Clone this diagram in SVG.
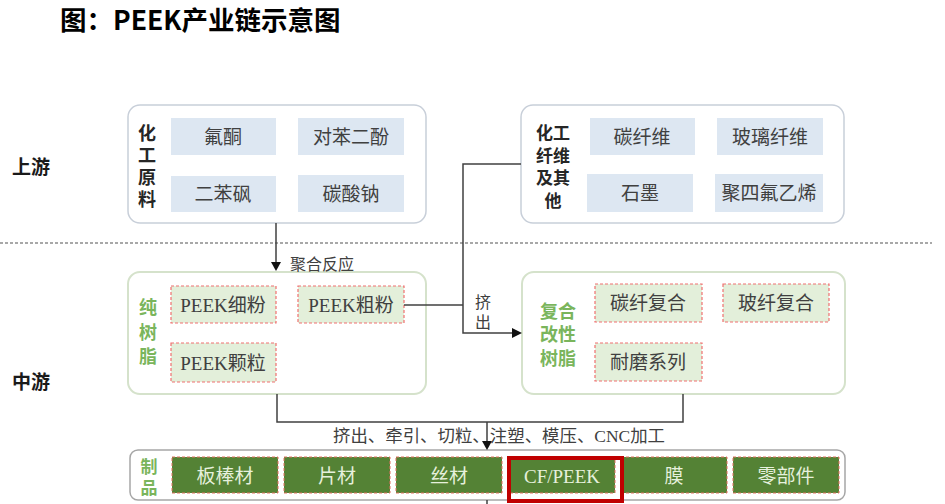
<svg xmlns="http://www.w3.org/2000/svg" width="945" height="504" viewBox="0 0 945 504">
<style>
.cjk{font-family:"Noto Sans CJK SC","Liberation Sans",sans-serif}
.srf{font-family:"Liberation Serif","Noto Sans CJK SC",serif}
.title{font-size:26.5px;font-weight:bold;fill:#000}
.side{font-size:19px;font-weight:bold;fill:#1a1a1a}
.lblk{font-size:18px;font-weight:bold;fill:#262626}
.lgrn{font-size:18px;font-weight:bold;fill:#7ab55c}
.item{font-size:19px;fill:#404040}
.dark{font-size:19px;fill:#e6f0dc}
.note{font-size:16px;fill:#404040}
.vert{writing-mode:vertical-rl;text-orientation:upright}
.upbox{fill:#fff;stroke:#c8cfd9;stroke-width:1.5}
.midbox{fill:#fff;stroke:#d5e2cb;stroke-width:2}
.blue{fill:#dde7f2}
.lg{fill:#e3efda;stroke:#f07070;stroke-width:1.2;stroke-dasharray:3 2}
.dg{fill:#548235;stroke:#e07060;stroke-width:1;stroke-dasharray:3 2}
.ln{fill:none;stroke:#404040;stroke-width:1.5}
.ah{fill:#111}
</style>

<text class="cjk title" x="60" y="18" dominant-baseline="central">图：PEEK产业链示意图</text>

<g id="stage-labels">
<text class="cjk side" x="12" y="165" dominant-baseline="central">上游</text>
<text class="cjk side" x="12" y="380" dominant-baseline="central">中游</text>
</g>

<line x1="0" y1="243" x2="932" y2="243" stroke="#8c8c8c" stroke-width="1.5" stroke-dasharray="3 2"/>

<g id="chem-raw">
<rect class="upbox" x="128" y="105" width="298" height="118" rx="12"/>
<text class="cjk lblk vert" x="147" y="168" text-anchor="middle" style="letter-spacing:4px">化工原料</text>
<rect class="blue" x="171" y="118" width="105" height="37"/>
<rect class="blue" x="298" y="118" width="106" height="37"/>
<rect class="blue" x="171" y="176" width="105" height="36"/>
<rect class="blue" x="298" y="175" width="106" height="37"/>
<g class="srf item" text-anchor="middle">
<text x="223" y="137" dominant-baseline="central">氟酮</text>
<text x="351" y="137" dominant-baseline="central">对苯二酚</text>
<text x="223" y="194" dominant-baseline="central">二苯砜</text>
<text x="351" y="194" dominant-baseline="central">碳酸钠</text>
</g>
</g>

<g id="chem-fiber">
<rect class="upbox" x="521" y="105" width="323" height="118" rx="12"/>
<text class="cjk lblk" text-anchor="middle" dominant-baseline="central" style="font-size:17px"><tspan x="553" y="131">化工</tspan><tspan x="553" y="153.5">纤维</tspan><tspan x="553" y="176">及其</tspan><tspan x="553" y="198.5">他</tspan></text>
<rect class="blue" x="590" y="118" width="105" height="37"/>
<rect class="blue" x="717" y="118" width="106" height="37"/>
<rect class="blue" x="587" y="174" width="106" height="38"/>
<rect class="blue" x="715" y="174" width="108" height="38"/>
<g class="srf item" text-anchor="middle">
<text x="642" y="137" dominant-baseline="central">碳纤维</text>
<text x="770" y="137" dominant-baseline="central">玻璃纤维</text>
<text x="640" y="193" dominant-baseline="central">石墨</text>
<text x="769" y="193" dominant-baseline="central">聚四氟乙烯</text>
</g>
</g>

<g id="pure-resin">
<rect class="midbox" x="128" y="272" width="298" height="122" rx="12"/>
<text class="cjk lgrn vert" x="148" y="335" text-anchor="middle" style="letter-spacing:6.5px">纯树脂</text>
<rect class="lg" x="171" y="286" width="105" height="37"/>
<rect class="lg" x="298" y="286" width="106" height="37"/>
<rect class="lg" x="171" y="343" width="105" height="39"/>
<g class="srf item" text-anchor="middle">
<text x="223" y="305" dominant-baseline="central">PEEK细粉</text>
<text x="351" y="305" dominant-baseline="central">PEEK粗粉</text>
<text x="223" y="363" dominant-baseline="central">PEEK颗粒</text>
</g>
</g>

<g id="composite-resin">
<rect class="midbox" x="522" y="272" width="323" height="122" rx="12"/>
<text class="cjk lgrn" text-anchor="middle" dominant-baseline="central"><tspan x="558" y="310">复合</tspan><tspan x="558" y="333">改性</tspan><tspan x="558" y="357">树脂</tspan></text>
<rect class="lg" x="595" y="284" width="107" height="38"/>
<rect class="lg" x="723" y="284" width="106" height="38"/>
<rect class="lg" x="595" y="343" width="107" height="38"/>
<g class="srf item" text-anchor="middle">
<text x="648" y="303" dominant-baseline="central">碳纤复合</text>
<text x="776" y="303" dominant-baseline="central">玻纤复合</text>
<text x="648" y="362" dominant-baseline="central">耐磨系列</text>
</g>
</g>

<g id="products">
<rect x="130" y="450" width="715" height="50" rx="8" fill="#fff" stroke="#a6a6a6" stroke-width="1.5"/>
<text class="cjk lgrn vert" x="149" y="479.5" text-anchor="middle" style="font-size:17px;letter-spacing:4px">制品</text>
<rect class="dg" x="172" y="457" width="106" height="36"/>
<rect class="dg" x="284" y="457" width="106" height="36"/>
<rect class="dg" x="396" y="457" width="106" height="36"/>
<rect class="dg" x="508" y="457" width="107" height="36"/>
<rect class="dg" x="621" y="457" width="106" height="36"/>
<rect class="dg" x="733" y="457" width="106" height="36"/>
<g class="srf dark" text-anchor="middle">
<text x="225" y="476" dominant-baseline="central">板棒材</text>
<text x="337" y="476" dominant-baseline="central">片材</text>
<text x="449" y="476" dominant-baseline="central">丝材</text>
<text x="562" y="476" dominant-baseline="central">CF/PEEK</text>
<text x="674" y="476" dominant-baseline="central">膜</text>
<text x="786" y="476" dominant-baseline="central">零部件</text>
</g>
<rect x="509" y="458" width="113" height="43" fill="none" stroke="#c00000" stroke-width="4"/>
</g>

<g id="connectors">
<path class="ln" d="M276 223 V263"/>
<path class="ah" d="M271 262 L281 262 L276 271 Z"/>
<text class="cjk note" x="290" y="263" dominant-baseline="central">聚合反应</text>
<path class="ln" d="M521 164 H463 V333 H513"/>
<path class="ln" d="M404 305 H463"/>
<path class="ah" d="M512 328 L522 333 L512 338 Z"/>
<text class="cjk note vert" x="483" y="314" text-anchor="middle" style="letter-spacing:4px">挤出</text>
<path class="ln" d="M277 394 V422 H683 V394"/>
<path class="ln" d="M487 422 V443"/>
<path class="ah" d="M482 441 L492 441 L487 450 Z"/>
<path class="ln" d="M487 500 V504"/>
<text class="srf" x="333" y="436" dominant-baseline="central" style="font-size:17px;fill:#404040" textLength="332" lengthAdjust="spacingAndGlyphs">挤出、牵引、切粒、注塑、模压、CNC加工</text>
</g>
</svg>
